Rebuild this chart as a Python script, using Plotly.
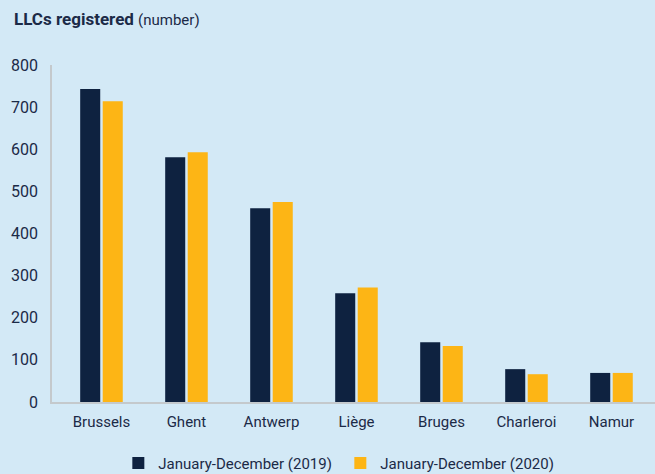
import plotly.graph_objects as go

categories = ["Brussels", "Ghent", "Antwerp", "Liège", "Bruges", "Charleroi", "Namur"]
values_2019 = [743, 581, 460, 258, 142, 78, 69]
values_2020 = [714, 593, 475, 272, 133, 66, 69]
series_names = ["January-December (2019)", "January-December (2020)"]
y_ticks = [0, 100, 200, 300, 400, 500, 600, 700, 800]

NAVY = "#0e2240"
YELLOW = "#fdb515"
BG = "#d3e9f6"
TXT = "#1b2a47"
FONT = "Roboto"

fig = go.Figure()
fig.add_trace(go.Bar(x=categories, y=values_2019, name=series_names[0], marker_color=NAVY, marker_line_width=0))
fig.add_trace(go.Bar(x=categories, y=values_2020, name=series_names[1], marker_color=YELLOW, marker_line_width=0))

fig.update_layout(
    width=655, height=474,
    paper_bgcolor=BG, plot_bgcolor=BG,
    barmode="group", bargap=0.47, bargroupgap=0.11,
    margin=dict(l=52, r=0, t=65, b=72, autoexpand=False),
    font=dict(family=FONT, color=TXT, size=15),
    showlegend=True,
    legend=dict(orientation="h", x=0.11, xanchor="left", y=-0.133, yanchor="top",
                font=dict(size=15, family=FONT, color=TXT), itemwidth=30, traceorder="normal",
                entrywidth=177, entrywidthmode="pixels",
                bgcolor="rgba(0,0,0,0)"),
    annotations=[dict(text="<b>LLCs registered</b> <span style='font-size:15px'>(number)</span>",
                      xref="paper", yref="paper", x=-40/603, y=1 + 46/337, xanchor="left", yanchor="middle",
                      showarrow=False, font=dict(size=17, family=FONT, color=TXT))],
)
fig.update_xaxes(range=[-0.582, 6.512], showline=True, linecolor="#c4c9cc", linewidth=1.5,
                 ticks="outside", ticklen=5, tickcolor="rgba(0,0,0,0)", showgrid=False,
                 tickfont=dict(size=15, color=TXT, family=FONT))
fig.update_yaxes(range=[0, 800], tickvals=y_ticks, showgrid=False, zeroline=False,
                 showline=True, linecolor="#c4c9cc", linewidth=1.5, ticks="outside", ticklen=9,
                 tickcolor="rgba(0,0,0,0)", tickfont=dict(size=16, color=TXT, family=FONT))

fig.write_html("out.html", config={"displayModeBar": False},
               post_script="document.body.style.margin='0';document.body.style.overflow='hidden';")
